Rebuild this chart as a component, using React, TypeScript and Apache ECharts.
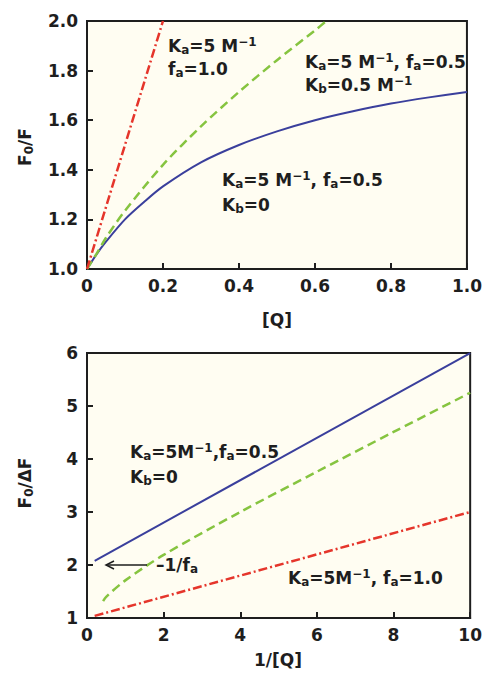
import React, { useEffect, useRef } from "react";
import * as echarts from "echarts";

// Top panel: F0/F vs [Q]
const topXTicks = [0, 0.2, 0.4, 0.6, 0.8, 1.0];
const topBlueQ = [0, 0.025, 0.05, 0.1, 0.15, 0.2, 0.3, 0.4, 0.5, 0.6, 0.7, 0.8, 0.9, 1.0];
const topBlueY = [1.0, 1.059, 1.11, 1.2, 1.27, 1.333, 1.43, 1.5, 1.555, 1.6, 1.636, 1.667, 1.692, 1.714];
const topGreenQ = [0, 0.025, 0.05, 0.1, 0.2, 0.3, 0.4, 0.5, 0.6, 0.63];
const topGreenY = [1.0, 1.061, 1.126, 1.235, 1.42, 1.575, 1.714, 1.842, 1.962, 2.0];
const topRedQ = [0, 0.2];
const topRedY = [1.0, 2.0];

// Bottom panel: F0/ΔF vs 1/[Q]
const botBlueX = [0.2, 10];
const botBlueY = [2.08, 6.0];
const botGreenX = [0.42, 0.5, 1, 2, 4, 6, 8, 10];
const botGreenY = [1.32, 1.4, 1.71, 2.19, 3.0, 3.76, 4.51, 5.25];
const botRedX = [0.2, 10];
const botRedY = [1.04, 3.0];

const FONT = "DejaVu Sans";
const INK = "#1e1e1e";
const BLUE = "#3a3f9c";
const GREEN = "#86c440";
const RED = "#e5352b";
const CREAM = "#fffdf2";

const zip = (xs: number[], ys: number[]) => xs.map((x, i) => [x, ys[i]]);

const rich = {
  m: { fontSize: 17, fontFamily: FONT, fontWeight: "bold", fill: INK, lineHeight: 20 },
  s: { fontSize: 12, fontFamily: FONT, fontWeight: "bold", fill: INK, lineHeight: 12, verticalAlign: "bottom" },
  p: { fontSize: 12, fontFamily: FONT, fontWeight: "bold", fill: INK, lineHeight: 12, verticalAlign: "top" },
};

const label = (text: string, x: number, y: number, extra: any = {}) => ({
  type: "text",
  x,
  y,
  z: 100,
  ...extra,
  style: {
    text,
    rich,
    fill: INK,
    fontSize: 17,
    fontWeight: "bold",
    fontFamily: FONT,
    verticalAlign: "middle",
    align: extra.align || "left",
  },
});

const axisCommon = {
  axisLine: { show: true, lineStyle: { color: INK, width: 2 } },
  axisTick: { show: true, inside: true, length: 6, lineStyle: { color: INK, width: 2 } },
  splitLine: { show: false },
  axisLabel: { color: INK, fontSize: 17, fontFamily: FONT, fontWeight: "bold" },
};

export default function App() {
  const ref = useRef<HTMLDivElement>(null);
  useEffect(() => {
    const chart = echarts.init(ref.current!, null, { renderer: "svg" });
    const option: any = {
      animation: false,
      backgroundColor: "#ffffff",
      grid: [
        { left: 87, top: 21, width: 386, height: 248, show: true, backgroundColor: CREAM, borderColor: INK, borderWidth: 2 },
        { left: 87, top: 353, width: 386, height: 265, show: true, backgroundColor: CREAM, borderColor: INK, borderWidth: 2 },
      ],
      xAxis: [
        {
          ...axisCommon,
          type: "value",
          gridIndex: 0,
          min: topXTicks[0],
          max: topXTicks[topXTicks.length - 1],
          interval: 0.2,
          axisLabel: { ...axisCommon.axisLabel, margin: 8, formatter: (v: number) => (v === 0 ? "0" : v.toFixed(1)) },
        },
        {
          ...axisCommon,
          type: "value",
          gridIndex: 1,
          min: 0,
          max: 10,
          interval: 2,
          axisLabel: { ...axisCommon.axisLabel, margin: 8 },
        },
      ],
      yAxis: [
        {
          ...axisCommon,
          type: "value",
          gridIndex: 0,
          min: 1.0,
          max: 2.0,
          interval: 0.2,
          axisLabel: { ...axisCommon.axisLabel, margin: 9, formatter: (v: number) => v.toFixed(1) },
        },
        {
          ...axisCommon,
          type: "value",
          gridIndex: 1,
          min: 1,
          max: 6,
          interval: 1,
          axisLabel: { ...axisCommon.axisLabel, margin: 9 },
        },
      ],
      series: [
        {
          type: "line", xAxisIndex: 0, yAxisIndex: 0, symbol: "none", smooth: 0.3,
          data: zip(topBlueQ, topBlueY), lineStyle: { color: BLUE, width: 2 },
        },
        {
          type: "line", xAxisIndex: 0, yAxisIndex: 0, symbol: "none", smooth: 0.3,
          data: zip(topGreenQ, topGreenY), lineStyle: { color: GREEN, width: 2.5, type: [9, 5] },
        },
        {
          type: "line", xAxisIndex: 0, yAxisIndex: 0, symbol: "none",
          data: zip(topRedQ, topRedY), lineStyle: { color: RED, width: 2.5, type: [9, 3, 2, 3] },
        },
        {
          type: "line", xAxisIndex: 1, yAxisIndex: 1, symbol: "none",
          data: zip(botBlueX, botBlueY), lineStyle: { color: BLUE, width: 2 },
        },
        {
          type: "line", xAxisIndex: 1, yAxisIndex: 1, symbol: "none", smooth: 0.3,
          data: zip(botGreenX, botGreenY), lineStyle: { color: GREEN, width: 2.5, type: [9, 5] },
        },
        {
          type: "line", xAxisIndex: 1, yAxisIndex: 1, symbol: "none",
          data: zip(botRedX, botRedY), lineStyle: { color: RED, width: 2.5, type: [9, 3, 2, 3] },
        },
      ],
      graphic: [
        // axis names
        label("{m|F}{s|0}{m|/F}", 25, 147, { rotation: Math.PI / 2, align: "center" }),
        label("{m|[Q]}", 277, 320, { align: "center" }),
        label("{m|F}{s|0}{m|/ΔF}", 25, 483, { rotation: Math.PI / 2, align: "center" }),
        label("{m|1/[Q]}", 278, 660, { align: "center" }),
        // top annotations
        label("{m|K}{s|a}{m|=5 M}{p|−1}", 168, 46),
        label("{m|f}{s|a}{m|=1.0}", 168, 69),
        label("{m|K}{s|a}{m|=5 M}{p|−1}{m|, f}{s|a}{m|=0.5}", 305, 62),
        label("{m|K}{s|b}{m|=0.5 M}{p|−1}", 305, 85),
        label("{m|K}{s|a}{m|=5 M}{p|−1}{m|, f}{s|a}{m|=0.5}", 222, 180),
        label("{m|K}{s|b}{m|=0}", 222, 205),
        // bottom annotations
        label("{m|K}{s|a}{m|=5M}{p|−1}{m|,f}{s|a}{m|=0.5}", 130, 452),
        label("{m|K}{s|b}{m|=0}", 130, 477),
        label("{m|K}{s|a}{m|=5M}{p|−1}{m|, f}{s|a}{m|=1.0}", 288, 578),
        label("{m|–1/f}{s|a}", 156, 565),
        {
          type: "line", z: 100,
          shape: { x1: 147, y1: 565, x2: 106, y2: 565 },
          style: { stroke: INK, lineWidth: 1.5 },
        },
        {
          type: "polyline", z: 100,
          shape: { points: [[114, 561], [106, 565], [114, 569]] },
          style: { stroke: INK, lineWidth: 1.5, fill: "none" },
        },
      ],
    };
    chart.setOption(option);
    return () => chart.dispose();
  }, []);
  return (
    <div
      ref={ref}
      style={{ position: "absolute", left: 0, top: 0, width: 485, height: 673, background: "#fff" }}
    />
  );
}
